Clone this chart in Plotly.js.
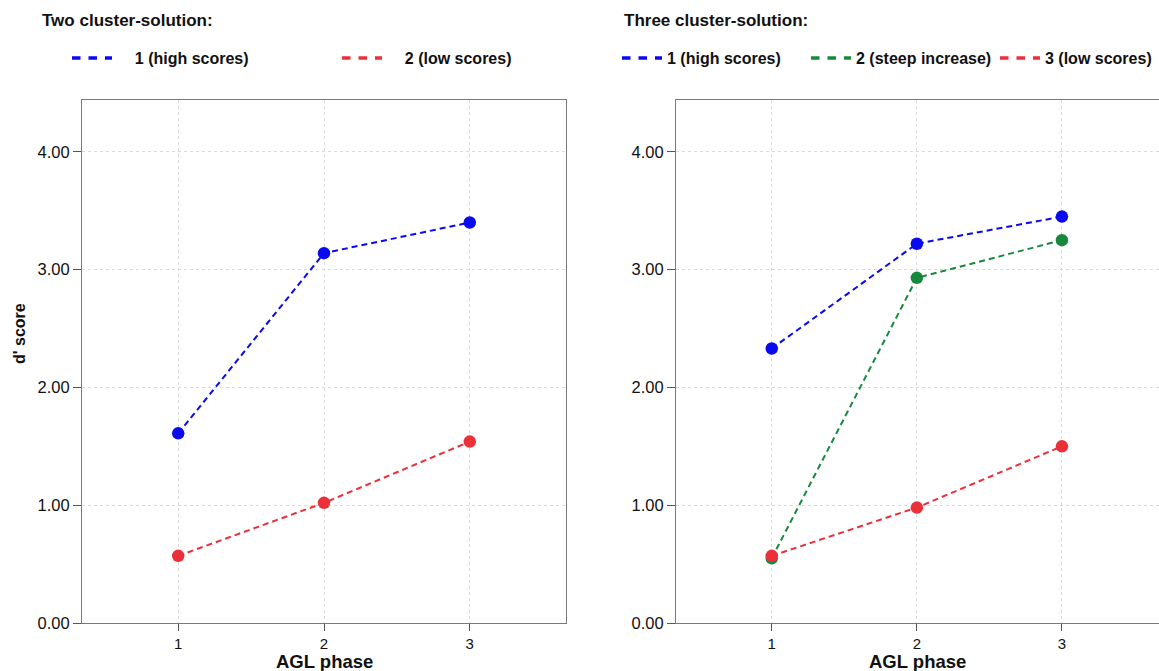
<!DOCTYPE html>
<html>
<head>
<meta charset="utf-8">
<script src="https://cdn.plot.ly/plotly-3.0.1.min.js"></script>
<style>
html, body { margin: 0; padding: 0; overflow: hidden; background: #fff; }
#chart { width: 1175px; height: 671px; }
</style>
</head>
<body>
<div id="chart"></div>
<script>
// ---- data ----
const phases = [1, 2, 3];
const phaseLabels = ["1", "2", "3"];
const yTicks = [0, 1, 2, 3, 4];
const yTickLabels = ["0.00", "1.00", "2.00", "3.00", "4.00"];

// Two cluster-solution
const two_high = [1.61, 3.14, 3.40];
const two_low = [0.57, 1.02, 1.54];
const twoNames = ["1 (high scores)", "2 (low scores)"];

// Three cluster-solution
const three_high = [2.33, 3.22, 3.45];
const three_steep = [0.55, 2.93, 3.25];
const three_low = [0.57, 0.98, 1.50];
const threeNames = ["1 (high scores)", "2 (steep increase)", "3 (low scores)"];

const xTitle = "AGL phase";
const yTitle = "d' score";

const BLUE = "#0a0aef";
const RED = "#ec3039";
const GREEN = "#17893d";
const FONT = "Liberation Sans, Arial, Helvetica, sans-serif";
const NB = "\u00a0\u00a0\u00a0\u00a0";

function dataTrace(y, color, xa, ya) {
  return {
    x: phases, y: y, xaxis: xa, yaxis: ya, type: "scatter", mode: "lines+markers",
    line: { color: color, width: 2, dash: "6px,4px" },
    marker: { color: color, size: 12.5 },
    showlegend: false, hoverinfo: "x+y"
  };
}
function legendTrace(name, color, legend, xa, ya) {
  return {
    x: [null], y: [null], xaxis: xa, yaxis: ya, type: "scatter", mode: "lines",
    name: name, legend: legend,
    line: { color: color, width: 3.5, dash: "8.5px,8px" },
    showlegend: true, hoverinfo: "skip"
  };
}

const traces = [
  dataTrace(two_high, BLUE, "x", "y"),
  dataTrace(two_low, RED, "x", "y"),
  dataTrace(three_high, BLUE, "x2", "y2"),
  dataTrace(three_steep, GREEN, "x2", "y2"),
  dataTrace(three_low, RED, "x2", "y2"),
  legendTrace(NB + twoNames[0], BLUE, "legend", "x", "y"),
  legendTrace(NB + twoNames[1], RED, "legend", "x", "y"),
  legendTrace(threeNames[0], BLUE, "legend2", "x2", "y2"),
  legendTrace(threeNames[1], GREEN, "legend2", "x2", "y2"),
  legendTrace(threeNames[2], RED, "legend2", "x2", "y2")
];

const L = 82, T = 100, W = 1175, H = 671, R = 10, B = 48;
const PW = W - L - R, PH = H - T - B;
function px(x) { return (x - L) / PW; }
function py(y) { return (H - B - y) / PH; }

function xaxisDef(domain, anchor, range) {
  return {
    domain: domain, anchor: anchor, range: range,
    tickmode: "array", tickvals: phases, ticktext: phaseLabels,
    ticks: "outside", ticklen: 7, tickcolor: "#555", tickwidth: 1,
    showline: true, mirror: true, linecolor: "#7a7a7a", linewidth: 1,
    showgrid: true, gridcolor: "#dadada", griddash: "dot", gridwidth: 1,
    zeroline: false,
    tickfont: { family: FONT, size: 15, color: "#111" }
  };
}
function yaxisDef(anchor) {
  return {
    domain: [0, 1], anchor: anchor, range: [0, 4.44],
    tickmode: "array", tickvals: yTicks, ticktext: yTickLabels,
    ticks: "outside", ticklen: 8, tickcolor: "#555", tickwidth: 1,
    showline: true, mirror: true, linecolor: "#7a7a7a", linewidth: 1,
    showgrid: true, gridcolor: "#dadada", griddash: "dot", gridwidth: 1,
    zeroline: false,
    tickfont: { family: FONT, size: 16.5, color: "#111" }
  };
}

const legendFont = { family: FONT, size: 16, color: "#111", weight: "bold" };
const leftDomain = [0, 484 / PW];
const rightDomain = [(676 - L) / PW, 1];

const layout = {
  width: W, height: H,
  margin: { l: L, r: R, t: T, b: B, pad: 0, autoexpand: false },
  paper_bgcolor: "#fff", plot_bgcolor: "#fff",
  font: { family: FONT },
  xaxis: xaxisDef(leftDomain, "y", [0.34, 3.66]),
  yaxis: yaxisDef("x"),
  xaxis2: xaxisDef(rightDomain, "y2", [0.34, 3 + (W - R - 1062) / 145]),
  yaxis2: yaxisDef("x2"),
  legend: {
    orientation: "h", x: px(67), y: py(58), xanchor: "left", yanchor: "middle",
    xref: "paper", yref: "paper",
    font: legendFont, itemwidth: 40, entrywidth: 215, entrywidthmode: "pixels",
    bgcolor: "rgba(0,0,0,0)", borderwidth: 0, itemclick: false
  },
  legend2: {
    orientation: "h", x: px(617), y: py(58), xanchor: "left", yanchor: "middle",
    xref: "paper", yref: "paper",
    font: legendFont, itemwidth: 40, entrywidth: 134, entrywidthmode: "pixels",
    bgcolor: "rgba(0,0,0,0)", borderwidth: 0, itemclick: false
  },
  annotations: [
    { text: "Two cluster-solution:", xref: "paper", yref: "paper", x: px(40), y: py(20),
      xanchor: "left", yanchor: "middle", showarrow: false,
      font: { family: FONT, size: 17, color: "#111", weight: "bold" } },
    { text: "Three cluster-solution:", xref: "paper", yref: "paper", x: px(622), y: py(20),
      xanchor: "left", yanchor: "middle", showarrow: false,
      font: { family: FONT, size: 17, color: "#111", weight: "bold" } },
    { text: yTitle, xref: "paper", yref: "paper", x: px(19), y: py(334),
      xanchor: "center", yanchor: "middle", showarrow: false, textangle: -90,
      font: { family: FONT, size: 16, color: "#111", weight: "bold" } },
    { text: xTitle, xref: "paper", yref: "paper", x: (leftDomain[0] + leftDomain[1]) / 2, y: py(674),
      xanchor: "center", yanchor: "bottom", showarrow: false,
      font: { family: FONT, size: 18.5, color: "#111", weight: "bold" } },
    { text: xTitle, xref: "paper", yref: "paper", x: (rightDomain[0] + px(1158)) / 2, y: py(674),
      xanchor: "center", yanchor: "bottom", showarrow: false,
      font: { family: FONT, size: 18.5, color: "#111", weight: "bold" } }
  ],
  showlegend: true
};

Plotly.newPlot("chart", traces, layout, { staticPlot: true, displayModeBar: false });
</script>
</body>
</html>
